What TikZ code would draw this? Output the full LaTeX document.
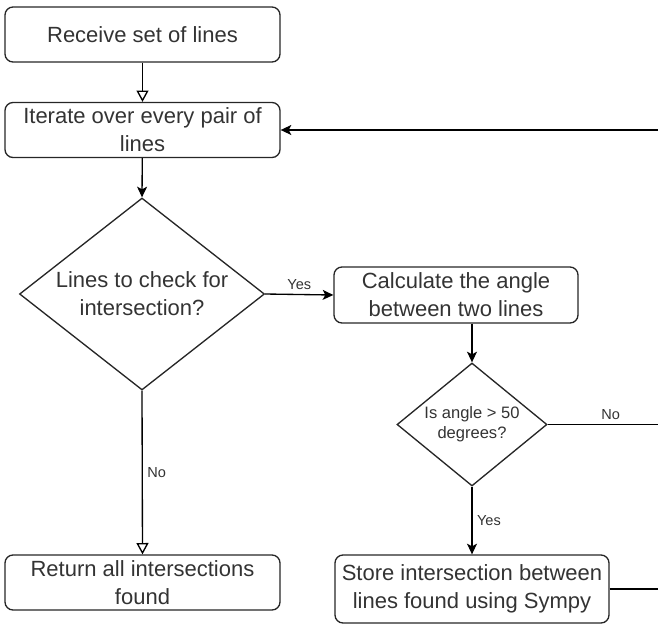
\documentclass[tikz,border=0pt]{standalone}
\usepackage{fontspec}
\setmainfont{Liberation Sans}
\usetikzlibrary{shapes.geometric, arrows.meta}
\tikzset{
every picture/.style={
line width=1pt
}}

\begin{document}
\begin{tikzpicture}[x=0.75pt, y=-0.75pt,
box/.style = {rectangle, draw=black!85, rounded corners=6pt, align=center, inner sep=0pt,
  text=black!80, font=\fontsize{16.5}{21}\selectfont},
dec/.style = {diamond, draw=black!85, inner sep=0pt},
lbl/.style = {text=black!80, font=\fontsize{10.9}{13}\selectfont},
go/.style = {-{Stealth[length=8pt, width=7.5pt, inset=2pt]}},
hollow/.style = {-{Triangle[open, length=8.5pt, width=9pt]}}]

\useasboundingbox (0,0) rectangle (658,626);

% nodes: boxes at the left column, checks at the right
\node [box, minimum width=206.25pt, minimum height=41.25pt] (recv) at (142.5,34.5) {Receive set of lines};
\node [box, minimum width=206.25pt, minimum height=41.25pt] (iter) at (142.5,130) {Iterate over every pair of\\lines};
\node [dec, minimum width=183.75pt, minimum height=144pt,
  label={[text=black!80, align=center, font=\fontsize{16.5}{21}\selectfont]center:Lines to check for\\intersection?}] (check) at (142,294) {};
\node [box, minimum width=206.25pt, minimum height=41.25pt] (ret) at (142.5,582.5) {Return all intersections\\found};

\node [box, minimum width=183pt, minimum height=42pt] (calc) at (456,295) {Calculate the angle\\between two lines};
\node [dec, minimum width=112.5pt, minimum height=92.25pt,
  label={[text=black!80, align=center, font=\fontsize{12.4}{15}\selectfont]center:Is angle > 50\\degrees?}] (ang) at (472,424.5) {};
\node [box, minimum width=205.5pt, minimum height=51pt] (store) at (472,589) {Store intersection between\\lines found using Sympy};

\coordinate (back) at (658,130);
\coordinate (nofar) at (658,424.5);
\coordinate (storefar) at (658,589);

\draw [hollow] (recv) -- (iter);
\draw [go] (back) -- (iter.east);
\draw [go] (iter) -- (check.north);
\draw [go] (check.east) -- node [lbl, above] (yes1) {Yes} (calc.west);
\draw [go] (ang.north |- calc.south) -- (ang.north);
\draw (ang.east) -- node [lbl, above, pos=0.57] (no2) {No} (nofar);
\draw [go] (ang.south) -- node [lbl, right] (yes2) {Yes} (store.north);
\draw (store.east) -- (storefar);
\draw [hollow] (check.south) -- node [lbl, right] (no1) {No} (ret.north);

\end{tikzpicture}
\end{document}
